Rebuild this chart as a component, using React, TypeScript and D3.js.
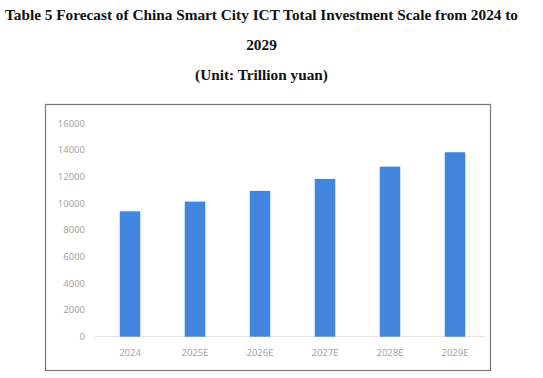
import React from "react";
import * as d3 from "d3";

const categories = ["2024", "2025E", "2026E", "2027E", "2028E", "2029E"];
const values = [9400, 10130, 10930, 11830, 12750, 13830];
const yTicks = [0, 2000, 4000, 6000, 8000, 10000, 12000, 14000, 16000];
const titleLines = [
  "Table 5 Forecast of China Smart City ICT Total Investment Scale from 2024 to",
  "2029",
  "(Unit: Trillion yuan)",
];

export default function App() {
  const W = 543, H = 378;
  const x = d3.scaleBand<string>().domain(categories).range([97.5, 487.5]);
  const y = d3.scaleLinear().domain([0, 16000]).range([336.7, 123.3]);
  const bw = 20.5;
  const cx = (c: string) => (x(c) as number) + x.bandwidth() / 2;
  return (
    <svg width={W} height={H} style={{ position: "absolute", left: 0, top: 0, background: "#fff" }}>
      {titleLines.map((t, i) => (
        <text key={i} x={261.5} y={20 + i * 30} textAnchor="middle"
          fontFamily="'Liberation Serif', 'Times New Roman', serif" fontWeight="bold" fontSize={15.3} fill="#111"
          {...(i === 0 ? { textLength: 513, lengthAdjust: "spacingAndGlyphs" } : {})}>
          {t}
        </text>
      ))}
      <rect x={45.5} y={104.5} width={445} height={266} fill="#fff" stroke="#7a7a7a" strokeWidth={1.2} />
      {yTicks.map((t) => (
        <text key={t} x={85} y={y(t)} dy="0.35em" textAnchor="end"
          fontFamily="'Open Sans', 'Noto Sans', sans-serif" fontSize={9.5} fill="#a0a0a0">
          {t}
        </text>
      ))}
      <line x1={95} x2={485} y1={y(0)} y2={y(0)} stroke="#e0e0e0" strokeWidth={1} />
      {categories.map((c, i) => (
        <rect key={c} x={cx(c) - bw / 2} y={y(values[i])} width={bw} height={y(0) - y(values[i])} fill="#4285dc" />
      ))}
      {categories.map((c) => (
        <text key={c} x={cx(c)} y={353} dy="0.35em" textAnchor="middle"
          fontFamily="'Open Sans', 'Noto Sans', sans-serif" fontSize={9.5} fill="#a0a0a0">
          {c}
        </text>
      ))}
    </svg>
  );
}
